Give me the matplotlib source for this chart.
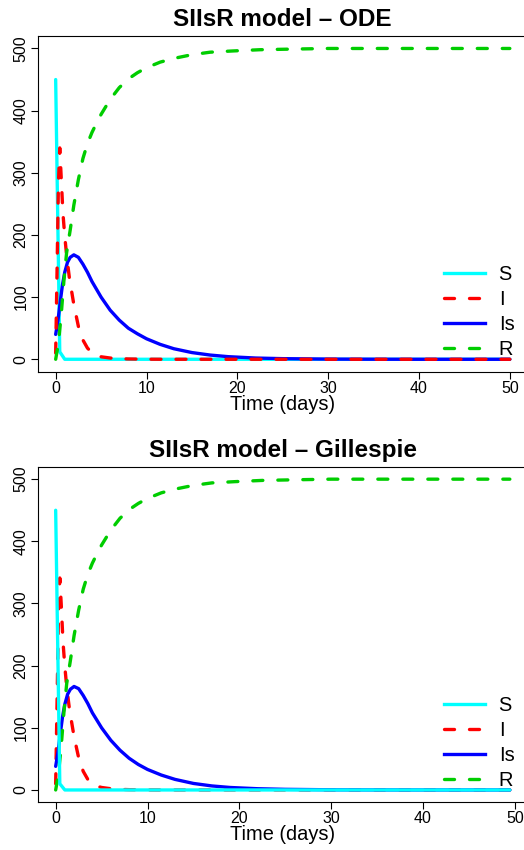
import matplotlib
matplotlib.use("Agg")
import matplotlib.pyplot as plt
from matplotlib.lines import Line2D

plt.rcParams['font.family'] = ['Liberation Sans', 'DejaVu Sans']
plt.rcParams['lines.scale_dashes'] = False

# --- ODE solution ---
t_S = [0, 0.45, 1.0, 50]
S = [450, 12, 0, 0]

t_I = [0, 0.15, 0.3, 0.45, 0.6, 0.8, 1.0, 1.2, 1.5, 2.0, 2.5, 3.0, 3.5, 4.0,
       4.5, 5.0, 6.0, 7.0, 8.0, 10, 12, 50]
I = [10, 140, 280, 340, 295, 235, 198, 168, 132, 88, 53, 31, 18, 10.5,
     6.5, 4, 2, 1, 0.5, 0.1, 0, 0]

t_Is = [0, 0.25, 0.5, 0.75, 1.0, 1.3, 1.6, 2.0, 2.5, 3.0, 3.5, 4.0, 5.0, 6.0,
        7.0, 8.0, 9.0, 10, 11.5, 13, 15, 17, 19, 22, 25, 30, 35, 40, 50]
Is = [40, 62, 92, 120, 140, 156, 164, 168, 164, 153, 140, 125, 100, 79,
      63, 50, 41, 33, 24, 17, 10.8, 6.8, 4.2, 2.0, 1.0, 0.3, 0.1, 0, 0]

t_R = [0, 0.3, 0.6, 0.9, 1.2, 1.6, 2.0, 2.5, 3.0, 3.5, 4.0, 4.5, 5.0, 6.0,
       7.0, 8.0, 9.0, 10, 11.5, 13, 15, 17, 19.5, 22.5, 26, 30, 40, 50]
R = [0, 25, 70, 125, 171, 208, 248, 289, 323, 347, 365, 380, 394, 418,
     437, 451, 461, 469, 478, 484, 490, 494, 496, 498, 499, 500, 500, 500]

# --- Gillespie run ---
tg_S = [0, 0.45, 1.0, 49.45]
Sg = [450, 10, 0, 0]

tg_I = [0, 0.15, 0.3, 0.45, 0.6, 0.8, 1.0, 1.2, 1.5, 2.0, 2.5, 3.0, 3.5, 4.0,
        4.5, 5.0, 6.0, 7.0, 8.0, 10, 12, 49.45]
Ig = [10, 140, 280, 341, 300, 238, 198, 166, 130, 86, 52, 30, 17, 10,
      6, 4, 2, 1, 0.5, 0.1, 0, 0]

tg_Is = [0, 0.25, 0.5, 0.75, 1.0, 1.3, 1.6, 2.0, 2.5, 3.0, 3.5, 4.0, 5.0, 6.0,
         7.0, 8.0, 9.0, 10, 11.5, 13, 15, 17, 19, 22, 25, 30, 35, 40, 49.45]
Isg = [38, 60, 90, 118, 138, 154, 162, 166.5, 163, 152, 139, 124, 100, 80,
       64, 51, 41, 33, 24, 17, 10.5, 6.5, 4, 2, 1, 0.3, 0.1, 0, 0]

tg_R = [0, 0.3, 0.6, 0.9, 1.2, 1.6, 2.0, 2.5, 3.0, 3.5, 4.0, 4.5, 5.0, 6.0,
        7.0, 8.0, 9.0, 10, 11.5, 13, 15, 17, 19.5, 22.5, 26, 30, 40, 49.45]
Rg = [0, 25, 70, 125, 171, 208, 248, 289, 323, 347, 365, 380, 394, 418,
      437, 451, 461, 469, 478, 484, 490, 494, 496, 498, 499, 500, 500, 500]

labels = ['S', 'I', 'Is', 'R']
colors = {'S': '#00FFFF', 'I': '#FF0000', 'Is': '#0000FF', 'R': '#00CD00'}
dashed = (0, (7.2, 10.8))
lw = 2.4
styles = {'S': '-', 'I': dashed, 'Is': '-', 'R': dashed}

fig = plt.figure(figsize=(5.24, 8.5), dpi=100)

def draw_panel(ax, series, order, tmax, title):
    for name in order:
        t, y = series[name]
        ax.plot(t, y, color=colors[name], lw=lw, linestyle=styles[name],
                dash_capstyle='round', solid_capstyle='round',
                solid_joinstyle='round')
    ax.set_xlim(-0.04 * tmax, 1.04 * tmax)
    ax.set_ylim(-20, 520)
    ax.set_xticks([0, 10, 20, 30, 40, 50])
    ax.set_yticks([0, 100, 200, 300, 400, 500])
    for sp in ax.spines.values():
        sp.set_linewidth(0.8)
    ax.tick_params(axis='both', direction='out', length=5, width=0.8,
                   labelsize=11.5)
    ax.tick_params(axis='x', pad=1.5)
    ax.tick_params(axis='y', pad=1.5)
    plt.setp(ax.get_yticklabels(), rotation=90, va='center')
    ax.set_xlabel('Time (days)', fontsize=14.4)
    ax.xaxis.set_label_coords(0.5, -0.068)
    ax.set_title(title, fontsize=17.5, fontweight='bold', pad=7)

    handles = [Line2D([], [], color=colors[n], lw=lw, linestyle=styles[n],
                      dash_capstyle='round') for n in labels]
    ax.legend(handles, labels, loc='upper left', bbox_to_anchor=(0.828, 0.318),
              frameon=False, fontsize=14.4, handlelength=2.05,
              handletextpad=0.7, labelspacing=0.3, borderpad=0,
              borderaxespad=0)

ax1 = fig.add_axes([0.07157, 0.5627, 0.93607, 0.3949])
draw_panel(ax1, {'S': (t_S, S), 'I': (t_I, I), 'Is': (t_Is, Is), 'R': (t_R, R)},
           ['S', 'Is', 'I', 'R'], 50, 'SIIsR model \u2013 ODE')

ax2 = fig.add_axes([0.07157, 0.0560, 0.93607, 0.3949])
draw_panel(ax2, {'S': (tg_S, Sg), 'I': (tg_I, Ig), 'Is': (tg_Is, Isg), 'R': (tg_R, Rg)},
           ['I', 'Is', 'R', 'S'], 49.45, 'SIIsR model \u2013 Gillespie')

fig.savefig('out.png', dpi=100)
